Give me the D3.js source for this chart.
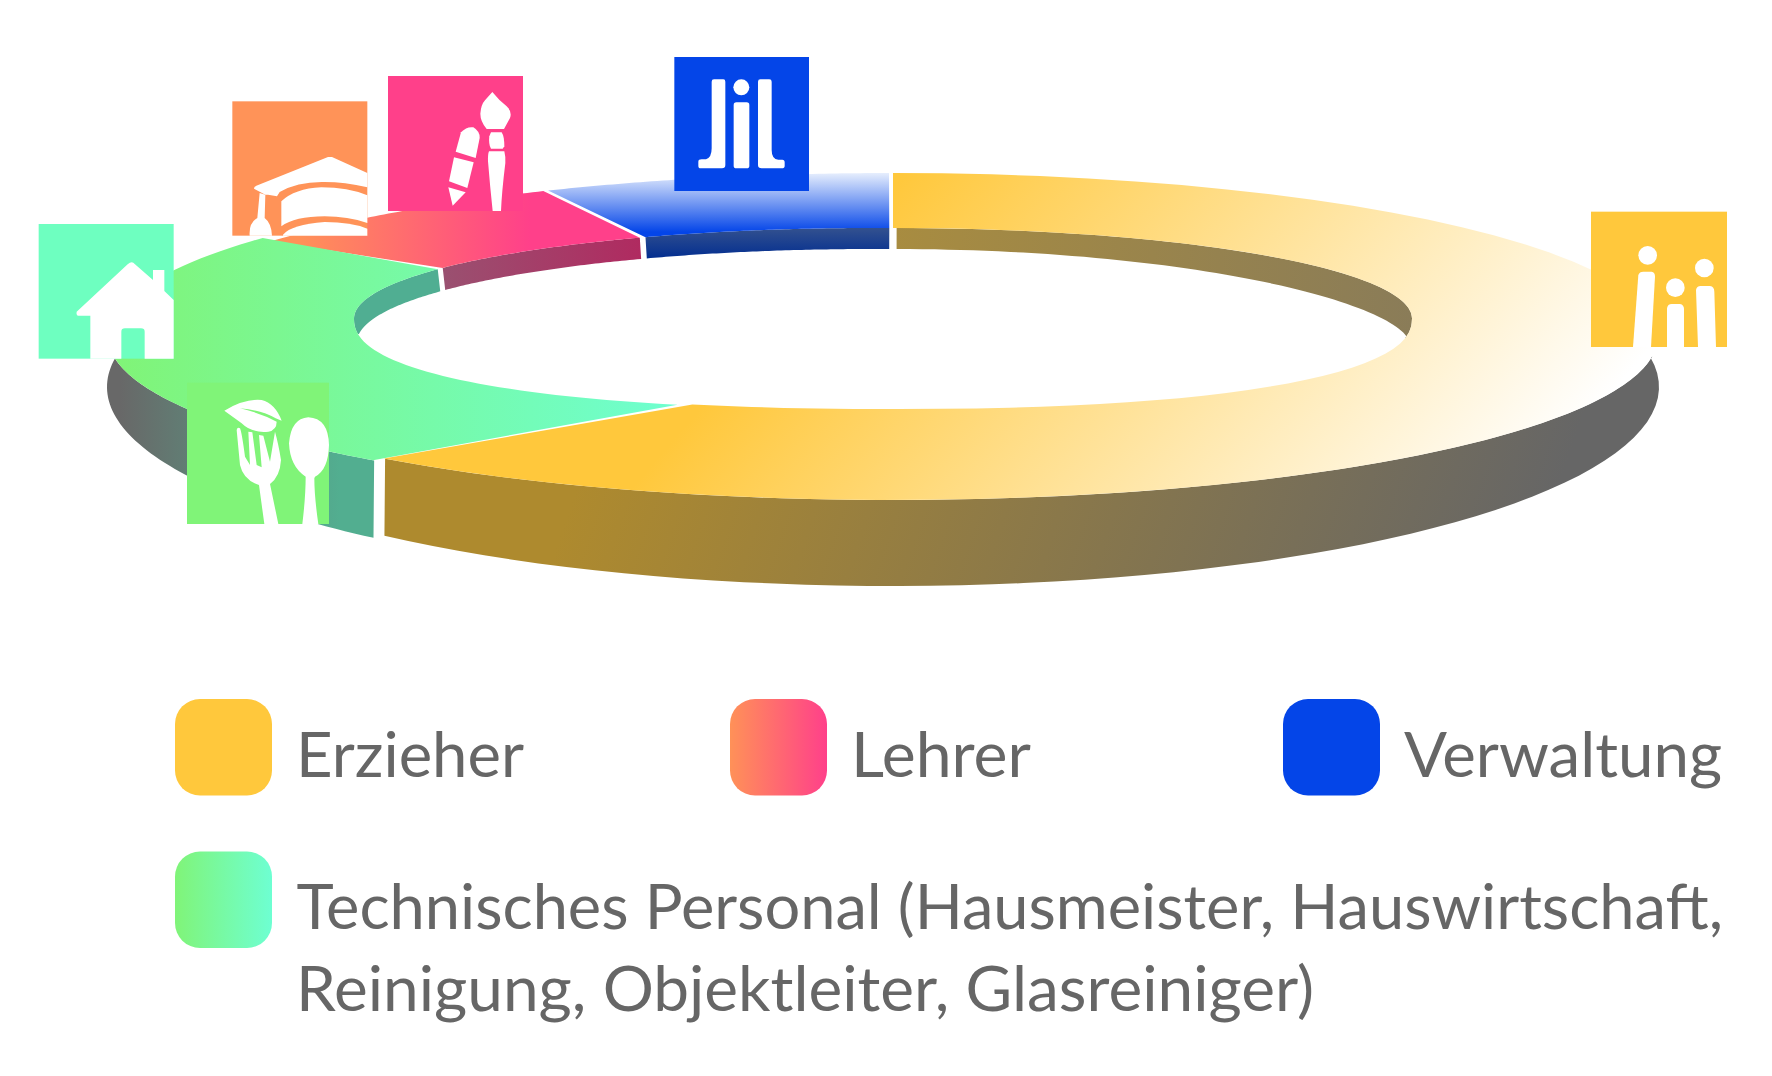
<!DOCTYPE html>
<html>
<head>
<meta charset="utf-8">
<script src="https://cdn.jsdelivr.net/npm/d3@7"></script>
<style>
html, body { margin: 0; padding: 0; background: #fff; }
svg { display: block; }
text { font-family: Lato, "Open Sans", sans-serif; fill: #666; }
</style>
</head>
<body>
<div id="chart"></div>
<script>
// values (share of the ring, clockwise from the top)
var categories = ["Erzieher", "Technisches Personal", "Lehrer", "Verwaltung"];
var shares = [61.7, 23.6, 7.2, 7.5];

var legendLines = [
    ["Erzieher"],
    ["Lehrer"],
    ["Verwaltung"],
    ["Technisches Personal (Hausmeister, Hauswirtschaft,", "Reinigung, Objektleiter, Glasreiniger)"]
];
var legendKeys = ["Erzieher", "Lehrer", "Verwaltung", "Technisches Personal"];

var width = 1772, height = 1076;

var svg = d3.select("#chart").append("svg")
    .attr("width", width)
    .attr("height", height);
var defs = svg.append("defs");

function gradient(id, x1, y1, x2, y2, stops, bbox) {
    var g = defs.append("linearGradient").attr("id", id)
        .attr("gradientUnits", bbox ? "objectBoundingBox" : "userSpaceOnUse")
        .attr("x1", x1).attr("y1", y1).attr("x2", x2).attr("y2", y2);
    stops.forEach(function (s) {
        g.append("stop").attr("offset", s[0]).attr("stop-color", s[1]);
    });
}

gradient("faceY", 880, 200, 1395, 644, [[0, "#ffc83c"], [1, "#ffffff"]]);
gradient("wallY", 620, 360, 1500, 660, [[0, "#ae8a2e"], [1, "#666666"]]);
gradient("wallYin", 893, 0, 1412, 0, [[0, "#a88c40"], [1, "#8a7c58"]]);
gradient("faceG", 120, 0, 690, 0, [[0, "#80f478"], [1, "#6effd2"]]);
gradient("wallG", 120, 0, 340, 0, [[0, "#686868"], [1, "#52ae90"]]);
gradient("faceP", 300, 0, 530, 0, [[0, "#ff9158"], [1, "#ff408a"]]);
gradient("wallP", 445, 0, 642, 0, [[0, "#9a5070"], [1, "#b02a60"]]);
gradient("faceB", 0, 173, 0, 232, [[0, "#e6eefd"], [1, "#0445e8"]]);
gradient("wallB", 0, 228, 0, 260, [[0, "#33518f"], [1, "#002c90"]]);
gradient("swatchP", 0, 0, 1, 0, [[0, "#ff9158"], [1, "#ff408a"]], true);
gradient("swatchG", 0, 0, 1, 0, [[0, "#80f478"], [1, "#6effd2"]], true);

var deg = Math.PI / 180;

// the ring is seen at an angle, so every edge gets its own ellipse
var outerTop = { cx: 893, cy: 336.5, rx: 765, ry: 163.5 };
var outerLow = { cx: 893, cy: 387, rx: 766, ry: 199 };
var innerTop = { cx: 893, cy: 318.5, rx: 519, ry: 90.5, lowPow: 0.87 };
var innerLow = { cx: 893, cy: 342, rx: 516, ry: 93 };

function shifted(e, cx, upPow) {
    return Object.assign({}, e, { cx: cx, upPow: upPow });
}

function pointOn(e, a) {
    var s = Math.sin(a), c = Math.cos(a), px = 1, py = 1;
    if (e.lowPow && c < 0) { px = e.lowPow; py = e.lowPow; }
    if (e.upPow && c > 0) { py = e.upPow; }
    return [
        e.cx + e.rx * Math.sign(s) * Math.pow(Math.abs(s), px),
        e.cy - e.ry * Math.sign(c) * Math.pow(Math.abs(c), py)
    ];
}

function arcPoints(e, a0, a1) {
    var n = 60;
    return d3.range(n + 1).map(function (i) {
        return pointOn(e, a0 + (a1 - a0) * i / n);
    });
}

var line = d3.line().curve(d3.curveLinear);

var pie = d3.pie().sort(null).startAngle(0).endAngle(2 * Math.PI);
var arcs = pie(shares);

// small corrections per slice, degrees: the slices were pulled apart a little
var slices = [
    { outer: [0, -0.4], inner: [0, 199.6], face: "faceY", wall: "wallY", innerFill: "url(#wallYin)",
      outerWall: [[97, 221.6], [81.4, 221.6]], innerWall: [[0.4, 100], [0.4, 85.7]], upPow: 1.2 },
    { outer: [-1.3, 0], inner: [199, 303], face: "faceG", wall: "wallG",
      outerWall: [[220.7, 262], [220.7, 278.4]], innerWall: [[262.5, 303], [275, 303]], innerFill: "#50ae92" },
    { outer: [-1.5, -0.2], inner: [304, 333.3], face: "faceP", wall: "wallP",
      innerWall: [[304, 333.3], [304, 333.3]] },
    { outer: [0.2, -0.3], inner: [334, 361.8], face: "faceB", wall: "wallB",
      innerWall: [[334, 361.8], [334, 361.8]] }
];

// left slices sit on a slightly shifted inner ellipse
slices.forEach(function (s, i) {
    s.innerCx = i == 0 ? 893 : 873;
    s.outerCx = i == 1 ? 873 : 893;
});

var ring = svg.append("g").attr("class", "ring");

function band(top, a, low, b) {
    return line(arcPoints(top, a[0], a[1]).concat(arcPoints(low, b[1], b[0]))) + "Z";
}

[3, 2, 1, 0].forEach(function (i) {
    var s = slices[i], d = arcs[i];
    var a0 = d.startAngle + s.outer[0] * deg, a1 = d.endAngle + s.outer[1] * deg;
    var oT = shifted(outerTop, s.outerCx), oL = shifted(outerLow, s.outerCx);
    var iT = shifted(innerTop, s.innerCx), iL = shifted(innerLow, s.innerCx, s.upPow);

    if (s.outerWall) {
        ring.append("path")
            .attr("d", band(oT, s.outerWall[0].map(function (v) { return v * deg; }),
                oL, s.outerWall[1].map(function (v) { return v * deg; })))
            .attr("fill", "url(#" + s.wall + ")");
    }
    ring.append("path")
        .attr("d", band(iT, s.innerWall[0].map(function (v) { return v * deg; }),
            iL, s.innerWall[1].map(function (v) { return v * deg; })))
        .attr("fill", s.innerFill || "url(#" + s.wall + ")");

    ring.append("path")
        .attr("class", "slice")
        .attr("data-name", categories[i])
        .attr("d", band(oT, [a0, a1], iT, s.inner.map(function (v) { return v * deg; })))
        .attr("fill", "url(#" + s.face + ")");
});

// icons: square tile with a white glyph. Glyph paths are in crop pixels (3x)
var icons = [
    { ox: 670, oy: 55, box: [13, 6, 404, 402], fill: "#0445e8", glyph: [
        "M125,80Q125,73 132,73H160Q166,73 166,80V330Q166,340 156,340H92Q85,340 85,332V320Q85,313 95,313H108Q125,308 125,280Z",
        "M191,150Q191,142 199,142H230Q238,142 238,150V332Q238,340 230,340H199Q191,340 191,332Z",
        "M190,97A24,24 0 1 1 238,97A24,24 0 1 1 190,97Z",
        "M264,80Q264,73 271,73H298Q305,73 305,80V285Q305,313 325,314H337Q344,314 344,322V333Q344,340 335,340H275Q264,340 264,330Z"
    ] },
    { ox: 228, oy: 98, box: [13, 10, 405, 403], fill: "#ff9358", glyph: [
        "M78,272Q78,266 85,263L300,177H312L418,225V268Q350,252 290,252Q210,250 155,282L147,295L120,290L112,290Z",
        "M160,310Q200,272 280,268Q360,268 418,292V375Q360,355 290,355Q200,355 160,385Z",
        "M165,410Q190,380 290,372Q370,372 418,392V413H165Z",
        "M95,285L112,290L110,360Q130,375 132,413H65Q62,375 88,360Z"
    ] },
    { ox: 385, oy: 73, box: [9, 9, 405, 405], fill: "#ff408a", glyph: [
        "M322,57Q342,82 365,100Q382,116 375,135L357,168H305Q286,145 286,122Q288,95 300,82Z",
        "M318,178H350Q358,190 358,220L353,227H318Q310,215 313,190Z",
        "M312,235H358Q362,250 361,270Q350,360 348,414H323Q315,340 309,265Q308,245 312,235Z",
        "M228,178Q245,160 265,163Q285,175 284,195L272,255L212,236Z",
        "M207,253L266,268L247,345L192,325Z",
        "M190,343L242,358L203,398Z"
    ] },
    { ox: 35, oy: 220, box: [11, 12, 405, 404], fill: "#6effc0", glyph: [
        "M290,127Q285,127 278,133L125,275Q123,286 130,287H166V416H259V335Q259,325 270,325H318Q329,325 329,335V416H416V240L388,213V150H354V180L300,133Q295,127 290,127Z"
    ] },
    { ox: 185, oy: 380, box: [6, 8, 426, 424], fill: "#80f478", glyph: [
        "M118,92Q180,55 230,60Q270,70 290,122L272,115Q230,90 165,85Q230,100 275,125Q275,150 250,155Q200,160 170,130Z",
        "M155,150Q157,140 165,145Q170,155 180,230L195,255L190,155L202,157L215,255L230,262L222,165L235,167L255,245L270,155Q280,190 288,240Q285,290 255,312L280,432H238L222,315Q175,300 165,255Z",
        "M370,112Q430,115 432,195Q430,270 390,290L388,295Q388,350 400,432H352Q362,350 362,290Q315,260 312,190Q318,115 370,112Z"
    ] },
    { ox: 1300, oy: 150, box: [873, 185, 408, 406], fill: "#ffc83c", glyph: [
        "M1015,316A28,28 0 1 1 1071,316A28,28 0 1 1 1015,316Z",
        "M1015,375Q1018,365 1030,365H1055Q1065,367 1065,380L1053,591H999Z",
        "M1098,413A28,28 0 1 1 1154,413A28,28 0 1 1 1098,413Z",
        "M1101,475Q1103,462 1115,462H1140Q1152,464 1152,478V591H1101Z",
        "M1185,354A28,28 0 1 1 1241,354A28,28 0 1 1 1185,354Z",
        "M1188,420Q1190,408 1202,408H1230Q1243,410 1243,425L1248,591H1194Z"
    ] }
];

var iconG = svg.append("g").attr("class", "icons");
icons.forEach(function (ic) {
    var g = iconG.append("g")
        .attr("transform", "translate(" + ic.ox + "," + ic.oy + ") scale(" + (1 / 3) + ")");
    g.append("rect")
        .attr("x", ic.box[0]).attr("y", ic.box[1])
        .attr("width", ic.box[2]).attr("height", ic.box[3])
        .attr("fill", ic.fill);
    ic.glyph.forEach(function (p) {
        g.append("path").attr("d", p).attr("fill", "#fff");
    });
});

// legend
var legendFill = {
    "Erzieher": "#ffc83c",
    "Lehrer": "url(#swatchP)",
    "Verwaltung": "#0445e8",
    "Technisches Personal": "url(#swatchG)"
};
var swatchX = [175, 730, 1283, 175];
var swatchY = [699, 699, 699, 851.5];
var textX = [[296], [851], [1404], [296.5, 296]];
var textEnd = [[524], [1031], [1722], [1723, 1314]];
var textY = [[777], [777], [777], [929, 1011]];

var legend = svg.append("g").attr("class", "legend");
legendKeys.forEach(function (k, i) {
    legend.append("rect")
        .attr("x", swatchX[i]).attr("y", swatchY[i])
        .attr("width", 97).attr("height", 96.5)
        .attr("rx", 25).attr("ry", 25)
        .attr("fill", legendFill[k]);
    legendLines[i].forEach(function (t, j) {
        legend.append("text")
            .attr("x", textX[i][j]).attr("y", textY[i][j])
            .attr("font-size", 61)
            .attr("textLength", textEnd[i][j] - textX[i][j])
            .attr("lengthAdjust", "spacingAndGlyphs")
            .text(t);
    });
});
</script>
</body>
</html>
